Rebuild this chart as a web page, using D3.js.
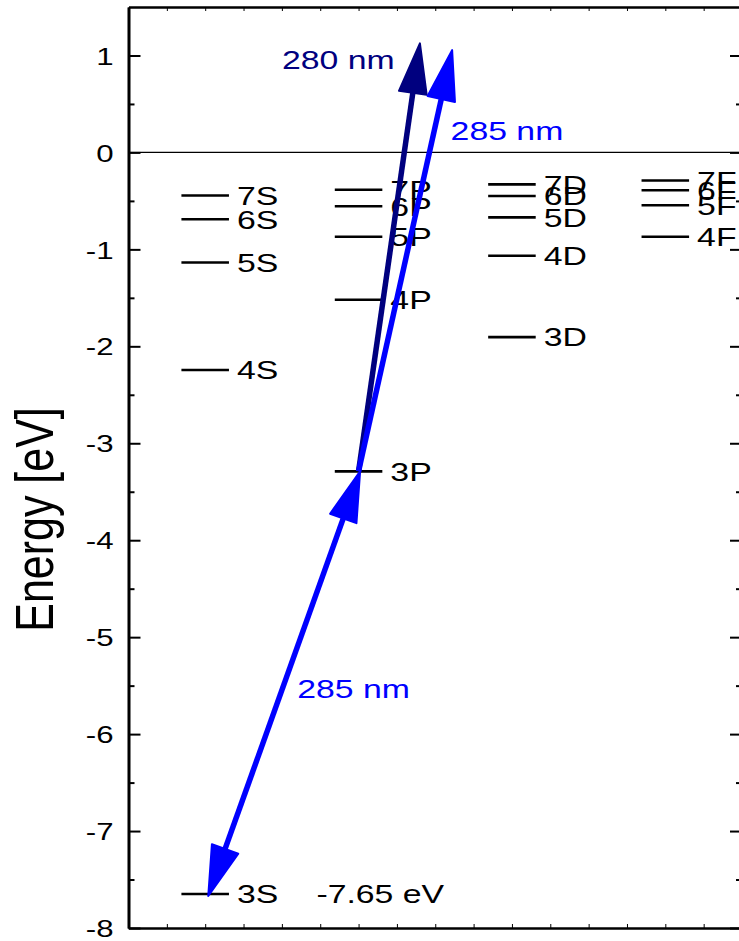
<!DOCTYPE html>
<html>
<head>
<meta charset="utf-8">
<script src="https://cdn.jsdelivr.net/npm/d3@7"></script>
<style>
  body { margin: 0; background: #fff; }
  svg { display: block; font-family: "Liberation Sans", Arial, sans-serif; }
</style>
</head>
<body>
<svg id="chart"></svg>
<script>
// energy levels (eV) per column, x = column position
const sNames = ["3S", "4S", "5S", "6S", "7S"];
const sLevels = [-7.65, -2.245, -1.135, -0.69, -0.445];
const pNames = ["3P", "4P", "5P", "6P", "7P"];
const pLevels = [-3.29, -1.52, -0.87, -0.555, -0.385];
const dNames = ["3D", "4D", "5D", "6D", "7D"];
const dLevels = [-1.905, -1.066, -0.67, -0.45, -0.33];
const fNames = ["4F", "5F", "6F", "7F"];
const fLevels = [-0.87, -0.545, -0.39, -0.29];
const columnX = [1, 3, 5, 7];

// transitions: start, end (data units)
const arrowNames = ["280 nm", "285 nm up", "285 nm down"];
const arrowFrom = [[3.0, -3.29], [3.0, -3.29], [3.02, -3.29]];
const arrowTo = [[3.8, 1.125], [4.22, 1.055], [1.04, -7.67]];
const arrowBoth = [false, false, true];
const arrowColor = ["#00007f", "#0000ff", "#0000ff"];

const noteText = ["280 nm", "285 nm", "285 nm", "-7.65 eV"];
const noteX = [2.0, 4.2, 2.2, 2.45];
const noteY = [0.86, 0.127, -5.63, -7.65];
const noteColor = ["#00007f", "#0000ff", "#0000ff", "#000"];

const yMajor = d3.range(-8, 2, 1);
const yMinor = d3.range(-7.5, 1.5, 1);
const xMinor = d3.range(0.5, 8, 0.5);

const width = 739, height = 941;
const mLeft = 128.5, mRight = 742, mTop = 7, mBottom = 928;
const sx = 1.3; // text is drawn wide in the original

const svg = d3.select("#chart").attr("width", width).attr("height", height);

const x = d3.scaleLinear().domain([0, 8]).range([mLeft, mRight]);
const y = d3.scaleLinear().domain([-8, 1.5]).range([mBottom, mTop]);

// zero line
svg.append("line")
  .attr("x1", mLeft).attr("x2", mRight)
  .attr("y1", y(0)).attr("y2", y(0))
  .attr("stroke", "#000").attr("stroke-width", 1.2);

// levels
const columns = [
  [sNames, sLevels], [pNames, pLevels], [dNames, dLevels], [fNames, fLevels]
];
const half = 0.31;
columns.forEach(([names, levels], ci) => {
  const cx = columnX[ci];
  const g = svg.append("g");
  g.selectAll("line")
    .data(levels)
    .enter()
    .append("line")
    .attr("x1", x(cx - half)).attr("x2", x(cx + half))
    .attr("y1", d => y(d)).attr("y2", d => y(d))
    .attr("stroke", "#000").attr("stroke-width", 2.6);
  g.selectAll("text")
    .data(levels)
    .enter()
    .append("text")
    .attr("transform", d => `translate(${x(cx + half) + 8},${y(d)}) scale(${sx},1)`)
    .attr("dy", "0.36em")
    .attr("font-size", 26)
    .text((d, i) => names[i]);
});

// notes
noteText.forEach((t, i) => {
  svg.append("text")
    .attr("transform", `translate(${x(noteX[i])},${y(noteY[i])}) scale(${sx},1)`)
    .attr("dy", i === 3 ? "0.36em" : 0)
    .attr("font-size", 26)
    .attr("fill", noteColor[i])
    .text(t);
});

// arrows
function head(tip, base, color) {
  const dx = tip[0] - base[0], dy = tip[1] - base[1];
  const len = Math.hypot(dx, dy);
  const ux = dx / len, uy = dy / len;
  const hl = 50, hw = 14;
  const bx = tip[0] - ux * hl, by = tip[1] - uy * hl;
  svg.append("path")
    .attr("d", `M${tip[0]},${tip[1]}L${bx - uy * hw},${by + ux * hw}L${bx + uy * hw},${by - ux * hw}Z`)
    .attr("fill", color)
    .attr("stroke", color)
    .attr("stroke-width", 2)
    .attr("stroke-linejoin", "round");
  return [bx + ux * 4, by + uy * 4];
}
arrowNames.forEach((n, i) => {
  const p0 = [x(arrowFrom[i][0]), y(arrowFrom[i][1])];
  const p1 = [x(arrowTo[i][0]), y(arrowTo[i][1])];
  const e1 = head(p1, p0, arrowColor[i]);
  const e0 = arrowBoth[i] ? head(p0, p1, arrowColor[i]) : p0;
  svg.append("line")
    .attr("x1", e0[0]).attr("y1", e0[1])
    .attr("x2", e1[0]).attr("y2", e1[1])
    .attr("stroke", arrowColor[i])
    .attr("stroke-width", 5.5);
});

// axes
const noLabel = () => "";
function styleAxis(g) {
  g.select(".domain").attr("stroke-width", 2.6);
  g.selectAll(".tick line").attr("stroke-width", 2);
}

const yAxis = svg.append("g")
  .attr("transform", `translate(${mLeft},0)`)
  .call(d3.axisLeft(y).tickValues(yMajor).tickSize(-12).tickSizeOuter(0)
    .tickPadding(15).tickFormat(d => String(d)))
  .call(styleAxis);
yAxis.selectAll(".tick text")
  .attr("x", null)
  .attr("transform", `translate(-15,0) scale(${sx},1)`)
  .attr("font-size", 24)
  .attr("font-family", "Liberation Sans, Arial, sans-serif")
  .attr("dy", "0.36em");

svg.append("g")
  .attr("transform", `translate(${mLeft},0)`)
  .call(d3.axisLeft(y).tickValues(yMinor).tickSize(-6).tickSizeOuter(0).tickFormat(noLabel))
  .call(styleAxis);

svg.append("g")
  .attr("transform", `translate(${mRight},0)`)
  .call(d3.axisRight(y).tickValues(yMajor).tickSize(-12).tickSizeOuter(0).tickFormat(noLabel))
  .call(styleAxis);
svg.append("g")
  .attr("transform", `translate(${mRight},0)`)
  .call(d3.axisRight(y).tickValues(yMinor).tickSize(-6).tickSizeOuter(0).tickFormat(noLabel))
  .call(styleAxis);

svg.append("g")
  .attr("transform", `translate(0,${mBottom})`)
  .call(d3.axisBottom(x).tickValues(xMinor).tickSize(-4).tickSizeOuter(0).tickFormat(noLabel))
  .call(styleAxis)
  .selectAll(".tick line").attr("stroke-width", 1);
svg.append("g")
  .attr("transform", `translate(0,${mTop})`)
  .call(d3.axisTop(x).tickValues(xMinor).tickSize(-4).tickSizeOuter(0).tickFormat(noLabel))
  .call(styleAxis)
  .selectAll(".tick line").attr("stroke-width", 1);

// y title
svg.append("text")
  .attr("transform", `translate(53,${(mTop + mBottom) / 2 + 52}) scale(1.25,1) rotate(-90)`)
  .attr("text-anchor", "middle")
  .attr("font-size", 43)
  .text("Energy [eV]");
</script>
</body>
</html>
